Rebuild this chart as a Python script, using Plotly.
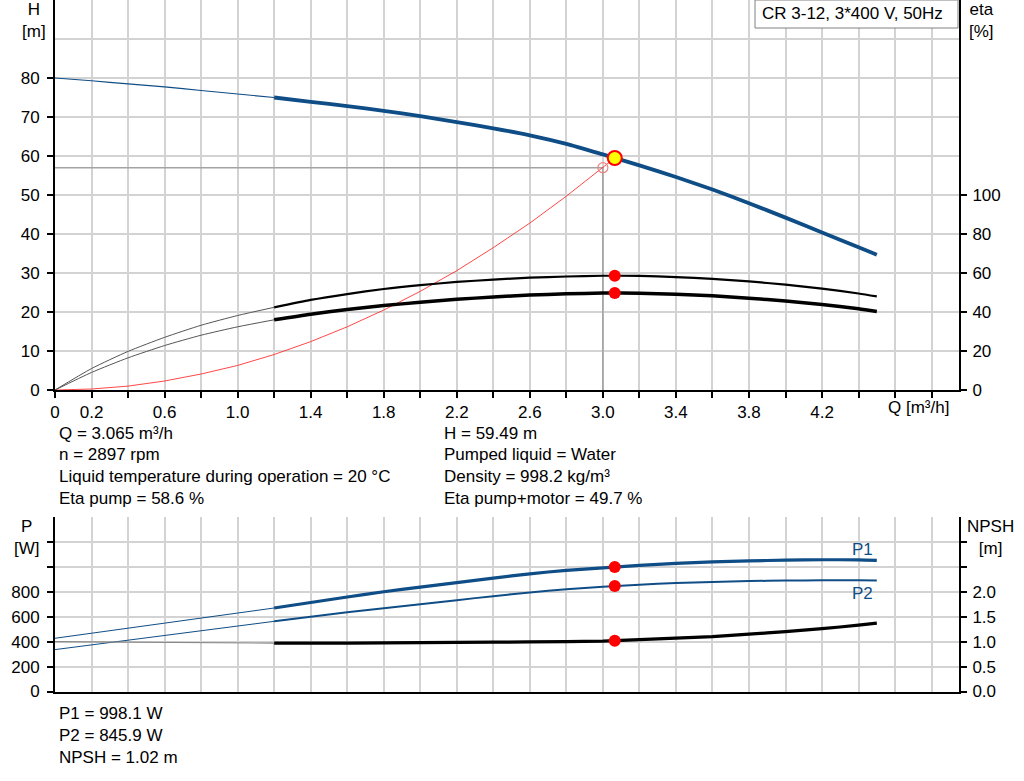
import plotly.graph_objects as go

# ---------------- data ----------------
# Head curve H [m]
q_h_thin = [0, 0.2, 0.4, 0.6, 0.8, 1.0, 1.2]
h_thin = [80.0, 79.3, 78.5, 77.7, 76.8, 75.9, 75.0]
q_h = [1.2, 1.4, 1.6, 1.8, 2.0, 2.2, 2.4, 2.6, 2.8, 3.0, 3.2, 3.4, 3.6, 3.8, 4.0, 4.2, 4.4, 4.5]
h_vals = [75.0, 73.9, 72.8, 71.6, 70.2, 68.7, 67.1, 65.3, 63.1, 60.4, 57.6, 54.6, 51.4, 47.9, 44.2, 40.4, 36.6, 34.7]

# Efficiency curves [%]
q_eta_thin = [0, 0.2, 0.4, 0.6, 0.8, 1.0, 1.2]
eta_pump_thin = [0, 11.0, 19.8, 27.0, 33.2, 38.2, 42.4]
eta_pm_thin = [0, 9.0, 16.5, 22.8, 28.1, 32.4, 36.0]
q_eta = [1.2, 1.4, 1.6, 1.8, 2.0, 2.2, 2.4, 2.6, 2.8, 3.0, 3.2, 3.4, 3.6, 3.8, 4.0, 4.2, 4.4, 4.5]
eta_pump = [42.4, 46.2, 49.2, 51.8, 53.8, 55.4, 56.6, 57.6, 58.2, 58.6, 58.5, 57.9, 57.0, 55.7, 54.0, 52.0, 49.5, 48.0]
eta_pm = [36.0, 38.9, 41.3, 43.3, 45.0, 46.5, 47.7, 48.7, 49.3, 49.7, 49.6, 49.1, 48.3, 47.1, 45.6, 43.9, 41.7, 40.3]

# System curve (red) [m]
q_sys = [0, 0.2, 0.4, 0.6, 0.8, 1.0, 1.2, 1.4, 1.6, 1.8, 2.0, 2.2, 2.4, 2.6, 2.8, 3.0, 3.065]
h_sys = [0, 0.25, 1.0, 2.3, 4.1, 6.3, 9.1, 12.4, 16.2, 20.5, 25.3, 30.6, 36.5, 42.8, 49.7, 57.0, 59.49]

# Power curves [W]
q_p_thin = [0, 0.4, 0.8, 1.2]
p1_thin = [427, 507, 590, 670]
p2_thin = [336, 413, 490, 563]
q_p = [1.2, 1.4, 1.6, 1.8, 2.0, 2.2, 2.4, 2.6, 2.8, 3.0, 3.2, 3.4, 3.6, 3.8, 4.0, 4.2, 4.4, 4.5]
p1 = [670, 714, 758, 800, 837, 874, 910, 944, 972, 992, 1012, 1028, 1040, 1048, 1054, 1057, 1056, 1052]
p2 = [563, 600, 636, 668, 700, 733, 765, 795, 820, 840, 857, 870, 879, 886, 890, 892, 892, 891]

# NPSH curve [m]
q_n_thin = [0, 0.4, 0.8, 1.2]
npsh_thin = [1.0, 0.99, 0.98, 0.97]
q_n = [1.2, 1.6, 2.0, 2.4, 2.8, 3.0, 3.2, 3.4, 3.6, 3.8, 4.0, 4.2, 4.4, 4.5]
npsh = [0.97, 0.97, 0.98, 0.99, 1.0, 1.01, 1.04, 1.07, 1.10, 1.15, 1.20, 1.26, 1.33, 1.37]

# Duty point and operating point
q_req, h_req = 3.0, 57.0
q_op, h_op = 3.065, 59.49
eta_pump_op, eta_pm_op = 58.6, 49.7
p1_op, p2_op, npsh_op = 998.1, 845.9, 1.02

# Axis ticks
x_tickvals = [round(0.2 * i, 1) for i in range(25)]
x_ticktext = ["0", "0.2", "", "0.6", "", "1.0", "", "1.4", "", "1.8", "", "2.2", "",
              "2.6", "", "3.0", "", "3.4", "", "3.8", "", "4.2", "", "", ""]
h_ticks = [0, 10, 20, 30, 40, 50, 60, 70, 80]
eta_ticks = [0, 20, 40, 60, 80, 100]
p_tickvals = [0, 200, 400, 600, 800, 1000, 1200]
p_ticktext = ["0", "200", "400", "600", "800", "", ""]
n_tickvals = [0, 0.5, 1.0, 1.5, 2.0, 2.5, 3.0]
n_ticktext = ["0.0", "0.5", "1.0", "1.5", "2.0", "", ""]

info_left = ["Q = 3.065 m³/h", "n = 2897 rpm",
             "Liquid temperature during operation = 20 °C", "Eta pump = 58.6 %"]
info_right = ["H = 59.49 m", "Pumped liquid = Water",
              "Density = 998.2 kg/m³", "Eta pump+motor = 49.7 %"]
info_bottom = ["P1 = 998.1 W", "P2 = 845.9 W", "NPSH = 1.02 m"]
title_box = "CR 3-12, 3*400 V, 50Hz"

# ---------------- styling ----------------
W, H_EFF = 1024, 781
BLUE = "#0f4d86"
GRID = "#d3d3d3"
FONT = "Liberation Sans, Arial, sans-serif"
FS = 17


def px(xp):
    return xp / W


def py(yp):
    return 1 - yp / H_EFF


fig = go.Figure()

# grey duty-point lines
fig.add_trace(go.Scatter(x=[0, q_req, q_req], y=[h_req, h_req, 0], mode="lines",
                         line=dict(color="#a3a3a3", width=1.6), xaxis="x", yaxis="y",
                         hoverinfo="skip"))
# system curve
fig.add_trace(go.Scatter(x=q_sys, y=h_sys, mode="lines",
                         line=dict(color="rgba(255,40,40,0.85)", width=1), xaxis="x", yaxis="y"))
# head curve
fig.add_trace(go.Scatter(x=q_h_thin, y=h_thin, mode="lines", line=dict(color=BLUE, width=1.2, shape="spline", smoothing=0.6),
                         xaxis="x", yaxis="y"))
fig.add_trace(go.Scatter(x=q_h, y=h_vals, mode="lines", line=dict(color=BLUE, width=3.8, shape="spline", smoothing=0.6),
                         xaxis="x", yaxis="y"))
# efficiency curves
fig.add_trace(go.Scatter(x=q_eta_thin, y=eta_pump_thin, mode="lines", line=dict(color="#555555", width=1, shape="spline", smoothing=0.6),
                         xaxis="x", yaxis="y2"))
fig.add_trace(go.Scatter(x=q_eta_thin, y=eta_pm_thin, mode="lines", line=dict(color="#555555", width=1, shape="spline", smoothing=0.6),
                         xaxis="x", yaxis="y2"))
fig.add_trace(go.Scatter(x=q_eta, y=eta_pump, mode="lines", line=dict(color="black", width=2.2, shape="spline", smoothing=0.6),
                         xaxis="x", yaxis="y2"))
fig.add_trace(go.Scatter(x=q_eta, y=eta_pm, mode="lines", line=dict(color="black", width=3.5, shape="spline", smoothing=0.6),
                         xaxis="x", yaxis="y2"))
# markers top
fig.add_trace(go.Scatter(x=[q_req], y=[h_req], mode="markers",
                         marker=dict(size=10, color="rgba(0,0,0,0)", line=dict(color="#f08080", width=1.2)),
                         xaxis="x", yaxis="y"))
fig.add_trace(go.Scatter(x=[q_op, q_op], y=[eta_pump_op, eta_pm_op], mode="markers",
                         marker=dict(size=12, color="#ff0000"), xaxis="x", yaxis="y2"))
fig.add_trace(go.Scatter(x=[q_op], y=[h_op], mode="markers",
                         marker=dict(size=14, color="#ffff00", line=dict(color="#ff0000", width=2)),
                         xaxis="x", yaxis="y"))

# bottom: power curves
fig.add_trace(go.Scatter(x=q_p_thin, y=p1_thin, mode="lines", line=dict(color=BLUE, width=1),
                         xaxis="x2", yaxis="y3"))
fig.add_trace(go.Scatter(x=q_p_thin, y=p2_thin, mode="lines", line=dict(color=BLUE, width=1),
                         xaxis="x2", yaxis="y3"))
fig.add_trace(go.Scatter(x=q_p, y=p1, mode="lines", line=dict(color=BLUE, width=3.2, shape="spline", smoothing=0.6),
                         xaxis="x2", yaxis="y3"))
fig.add_trace(go.Scatter(x=q_p, y=p2, mode="lines", line=dict(color=BLUE, width=2, shape="spline", smoothing=0.6),
                         xaxis="x2", yaxis="y3"))
fig.add_trace(go.Scatter(x=q_n_thin, y=npsh_thin, mode="lines", line=dict(color="#888888", width=1.2),
                         xaxis="x2", yaxis="y4"))
fig.add_trace(go.Scatter(x=q_n, y=npsh, mode="lines", line=dict(color="black", width=3.2, shape="spline", smoothing=0.6),
                         xaxis="x2", yaxis="y4"))
fig.add_trace(go.Scatter(x=[q_op, q_op], y=[p1_op, p2_op], mode="markers",
                         marker=dict(size=12, color="#ff0000"), xaxis="x2", yaxis="y3"))
fig.add_trace(go.Scatter(x=[q_op], y=[npsh_op], mode="markers",
                         marker=dict(size=12, color="#ff0000"), xaxis="x2", yaxis="y4"))

x_dom = [px(55), px(959)]
top_dom = [py(390), 1.0]
bot_dom = [py(691.5), py(517)]

common_x = dict(domain=x_dom, range=[0, 4.95], tickmode="array", tickvals=x_tickvals,
                showgrid=True, gridcolor=GRID, gridwidth=1.5, zeroline=False, automargin=False,
                showline=True, linecolor="black", linewidth=2, fixedrange=True)

fig.update_layout(
    autosize=True,
    margin=dict(l=0, r=0, t=0, b=0, pad=0),
    paper_bgcolor="white", plot_bgcolor="white",
    showlegend=False,
    font=dict(family=FONT, size=FS, color="black"),
    xaxis=dict(**common_x, anchor="y", ticktext=x_ticktext, ticks="outside",
               ticklen=6, tickwidth=1.5, tickcolor="black"),
    yaxis=dict(domain=top_dom, range=[0, 100], tickmode="array", tickvals=h_ticks,
               ticks="outside", ticklen=6, tickwidth=1.5, tickcolor="black",
               ticklabelstandoff=4, automargin=False,
               showgrid=True, gridcolor=GRID, gridwidth=1.5, zeroline=False,
               minor=dict(tickmode="array", tickvals=[90, 100], showgrid=True,
                          gridcolor=GRID, gridwidth=1.5, ticks=""),
               showline=True, linecolor="black", linewidth=2, anchor="x", fixedrange=True),
    yaxis2=dict(range=[0, 200], tickmode="array", tickvals=eta_ticks, overlaying="y",
                side="right", anchor="x", ticks="outside", ticklen=6, tickwidth=1.5,
                tickcolor="black", showgrid=False, zeroline=False, showline=True, automargin=False,
                ticklabelstandoff=2,
                linecolor="black", linewidth=2, fixedrange=True),
    xaxis2=dict(**common_x, anchor="y3", ticktext=[""] * len(x_tickvals), ticks="",
                showticklabels=False),
    yaxis3=dict(domain=bot_dom, range=[0, 1400], tickmode="array", tickvals=p_tickvals,
                ticktext=p_ticktext, ticks="outside", ticklen=6, tickwidth=1.5, tickcolor="black",
                ticklabelstandoff=4, automargin=False,
                showgrid=True, gridcolor=GRID, gridwidth=1.5, zeroline=False,
                minor=dict(tickmode="array", tickvals=[1400], showgrid=True,
                           gridcolor=GRID, gridwidth=1.5, ticks=""),
                showline=True, linecolor="black", linewidth=2, anchor="x2", fixedrange=True),
    yaxis4=dict(range=[0, 3.5], tickmode="array", tickvals=n_tickvals, ticktext=n_ticktext,
                overlaying="y3", side="right", anchor="x2", ticks="outside", ticklen=6,
                tickwidth=1.5, tickcolor="black", showgrid=False, zeroline=False, automargin=False,
                ticklabelstandoff=2,
                showline=True, linecolor="black", linewidth=2, fixedrange=True),
)

annotations = []


def ann(text, xp, yp, xanchor="left", color="black", size=FS):
    annotations.append(dict(text=text, x=px(xp), y=py(yp), xref="paper", yref="paper",
                            xanchor=xanchor, yanchor="middle", showarrow=False,
                            font=dict(color=color, size=size, family=FONT)))


ann("H<br>[m]", 34, 20, "center")
ann("eta<br>[%]", 981, 20, "center")
ann("P<br>[W]", 27, 537, "center")
ann("NPSH<br>[m]", 990, 537, "center")
ann("Q [m³/h]", 918, 407, "center")
ann(title_box, 760, 14, "left")
for i, t in enumerate(info_left):
    ann(t, 57, 433 + i * 21.7)
for i, t in enumerate(info_right):
    ann(t, 442, 433 + i * 21.7)
for i, t in enumerate(info_bottom):
    ann(t, 57, 713 + i * 22)
ann("P1", 862, 549, "center", BLUE)
ann("P2", 862, 593, "center", BLUE)

fig.update_layout(annotations=annotations)
fig.add_shape(type="rect", xref="paper", yref="paper", x0=px(755), x1=px(958),
              y0=py(28), y1=py(0), fillcolor="white", line=dict(color="#808080", width=1),
              layer="above")

fig.write_html("out.html", config={"displayModeBar": False, "responsive": True},
               default_width="100vw", default_height="100vh",
               post_script="document.body.style.margin='0px';document.body.style.overflow='hidden';")
